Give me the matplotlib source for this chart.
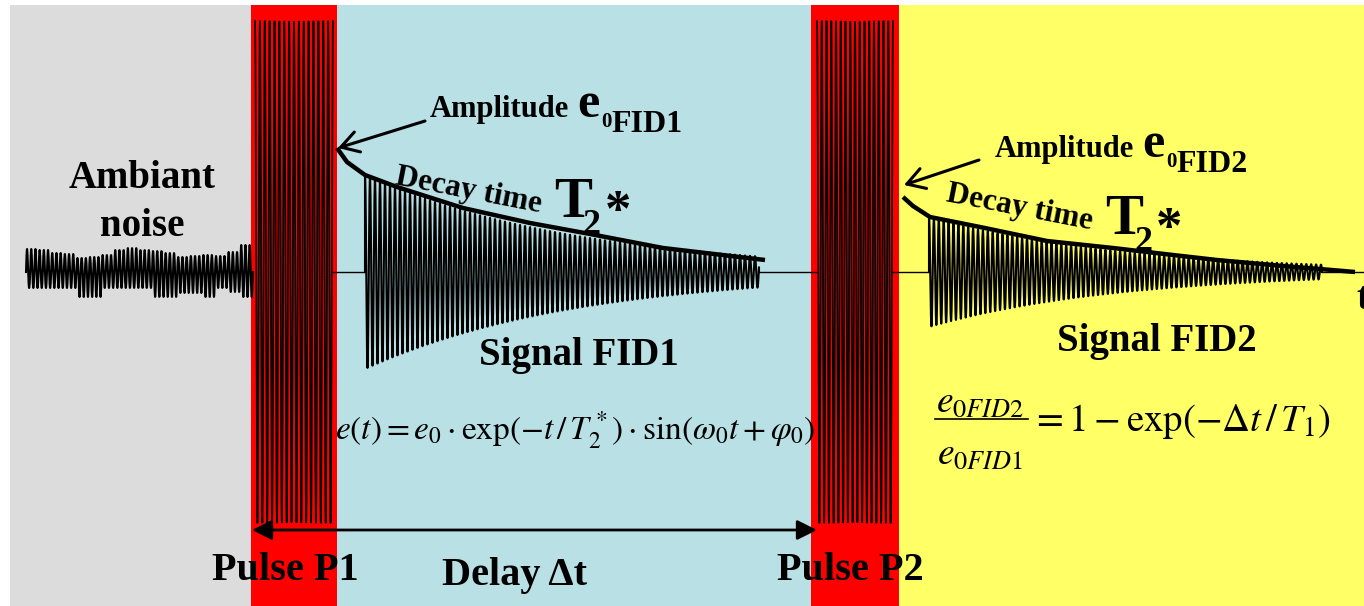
import numpy as np
import matplotlib
matplotlib.use("Agg")
import matplotlib.pyplot as plt
from matplotlib.patches import Rectangle

plt.rcParams["mathtext.fontset"] = "stix"
SERIF = "Liberation Serif"

W, H = 1364, 606
BASE_Y = 272

# background bands
band_edges = [10, 251, 337, 811, 899, 1364]
band_colors = ["#dcdcdc", "#ff0000", "#b9e0e4", "#ff0000", "#ffff66"]
band_top = 5

# RF pulses P1 and P2
pulse_spans = [(255, 333), (817, 893)]
pulse_cycles = 16
pulse_amp = 251

# ambient noise: upper / lower swing of each block of cycles
noise_span = (26, 254)
noise_period = 4.2
noise_up = [23, 22, 19, 18, 14, 15, 17, 22, 24, 22, 21, 19, 15, 16, 17, 16, 20, 27]
noise_down = [16, 16, 16, 16, 25, 25, 16, 16, 16, 16, 25, 25, 21, 21, 25, 16, 20, 25]

# free induction decays: e(t) = e0 exp(-t/T2*) cos(w0 t)
fid_start = [365, 929]
fid_end = [759, 1322]
fid_e0 = [97, 55]
fid_T2 = [215, 195]
fid_period = [5.0, 4.9]

# hand-drawn envelope guides (x, height above baseline)
env1_x = [337, 347, 365, 397, 463, 530, 590, 663, 765]
env1_h = [124, 110, 97, 85, 64, 49, 38, 24, 12]
env2_x = [903, 913, 930, 980, 1047, 1113, 1173, 1217, 1283, 1320, 1355]
env2_h = [75, 66, 55, 45, 31, 24, 17, 12, 6, 3, 0]

fig = plt.figure(figsize=(W / 100, H / 100), dpi=100)
ax = fig.add_axes([0, 0, 1, 1])
ax.set_xlim(0, W)
ax.set_ylim(H, 0)
ax.axis("off")

for x0, x1, c in zip(band_edges[:-1], band_edges[1:], band_colors):
    ax.add_patch(Rectangle((x0, band_top), x1 - x0, H - band_top, color=c, lw=0, zorder=0))

# noise
n_cyc = int((noise_span[1] - noise_span[0]) / noise_period)
per_block = int(np.ceil(n_cyc / len(noise_up)))
up = np.repeat(noise_up, per_block)[:n_cyc]
dn = np.repeat(noise_down, per_block)[:n_cyc]
xs = np.linspace(noise_span[0], noise_span[0] + n_cyc * noise_period, n_cyc * 24)
ph = (xs - noise_span[0]) / noise_period
k = np.minimum(ph.astype(int), n_cyc - 1)
s = np.sin(2 * np.pi * ph)
ax.plot(xs, BASE_Y - np.where(s > 0, up[k] * s, dn[k] * s), color="black", lw=1.5, zorder=3)

# pulses
for (a, b) in pulse_spans:
    xp = np.linspace(a, b, pulse_cycles * 40)
    yp = BASE_Y - pulse_amp * np.sin(2 * np.pi * pulse_cycles * (xp - a) / (b - a) + np.pi / 2)
    ax.plot(xp, yp, color="black", lw=1.25, zorder=3)

# baseline pieces between the marks
base_segments = [(pulse_spans[0][1], fid_start[0]), (fid_end[0], pulse_spans[1][0]),
                 (pulse_spans[1][1], fid_start[1]), (fid_end[1], W)]
for a, b in base_segments:
    ax.plot([a, b], [BASE_Y, BASE_Y], color="black", lw=1.0, zorder=3)

# FIDs
for s0, s1, e0, T2, per in zip(fid_start, fid_end, fid_e0, fid_T2, fid_period):
    t = np.linspace(0, s1 - s0, int((s1 - s0) / per * 30))
    y = BASE_Y - e0 * np.exp(-t / T2) * np.cos(2 * np.pi * t / per)
    ax.plot(np.r_[s0, s0 + t, s1], np.r_[BASE_Y, y, BASE_Y], color="black", lw=1.5, zorder=3)

ax.plot(env1_x, BASE_Y - np.array(env1_h), color="black", lw=3.2, solid_capstyle="butt", zorder=4)
ax.plot(env2_x, BASE_Y - np.array(env2_h), color="black", lw=3.2, solid_capstyle="butt", zorder=4)

bold = dict(family=SERIF, weight="bold", color="black", zorder=5)

# amplitude labels with arrows
for dx, dy, tag in [(0, 0, "FID1"), (565, 40, "FID2")]:
    ax.text(430 + dx, 117 + dy, "Amplitude", fontsize=22, ha="left", va="baseline", **bold)
    ax.text(577 + dx, 117 + dy, "e", fontsize=36, ha="left", va="baseline", **bold)
    ax.text(601 + dx, 127 + dy, "0", fontsize=15, ha="left", va="baseline", **bold)
    ax.text(611 + dx, 132 + dy, tag, fontsize=23, ha="left", va="baseline", **bold)

ax.annotate("", xy=(338, 148), xytext=(425, 121),
            arrowprops=dict(arrowstyle="->,head_length=0.5,head_width=0.3", lw=2.2, color="black",
                            shrinkA=0, shrinkB=0, mutation_scale=25), zorder=5)
ax.annotate("", xy=(904, 185), xytext=(979, 160),
            arrowprops=dict(arrowstyle="->,head_length=0.5,head_width=0.3", lw=2.2, color="black",
                            shrinkA=0, shrinkB=0, mutation_scale=25), zorder=5)

# decay-time labels
for dx, dy in [(0, 0), (551, 17)]:
    ax.text(394 + dx, 184 + dy, "Decay time", fontsize=22.5, rotation=-11, rotation_mode="anchor",
            ha="left", va="baseline", **bold)
    ax.text(554 + dx, 217 + dy, "T", fontsize=41, ha="left", va="baseline", **bold)
    ax.text(583 + dx, 234 + dy, "2", fontsize=26, ha="left", va="baseline", **bold)
    ax.text(605 + dx, 226 + dy, "*", fontsize=38, ha="left", va="baseline", **bold)

ax.text(142, 188, "Ambiant", fontsize=28, ha="center", va="baseline", **bold)
ax.text(142, 236, "noise", fontsize=28, ha="center", va="baseline", **bold)
ax.text(579, 365, "Signal FID1", fontsize=28, ha="center", va="baseline", **bold)
ax.text(1157, 351, "Signal FID2", fontsize=28, ha="center", va="baseline", **bold)
ax.text(1356, 309, "t", fontsize=28, ha="left", va="baseline", **bold)

ax.text(285, 580, "Pulse P1", fontsize=29, ha="center", va="baseline", **bold)
ax.text(515, 585, "Delay \u0394t", fontsize=29, ha="center", va="baseline", **bold)
ax.text(850, 580, "Pulse P2", fontsize=29, ha="center", va="baseline", **bold)

ax.annotate("", xy=(252, 530), xytext=(817, 530),
            arrowprops=dict(arrowstyle="<|-|>,head_length=0.6,head_width=0.3", lw=2, color="black",
                            shrinkA=0, shrinkB=0, mutation_scale=20), zorder=5)

# signal equation
ax.text(575, 439, r"$e(t) = e_0 \cdot \exp(-t\,/\,T_2^*) \cdot \sin(\omega_0 t + \varphi_0)$",
        fontsize=24, ha="center", va="baseline", color="black", zorder=5)

# amplitude ratio equation, built as a stacked fraction
ax.text(980, 412, r"$e_{0FID2}$", fontsize=27, ha="center", va="baseline", color="black", zorder=5)
ax.plot([935, 1028], [419, 419], color="black", lw=1.2, zorder=5)
ax.text(980, 464, r"$e_{0FID1}$", fontsize=27, ha="center", va="baseline", color="black", zorder=5)
ax.text(1031, 431, r"$= 1 - \exp(-\Delta t\,/\,T_1)$", fontsize=28, ha="left", va="baseline",
        color="black", zorder=5)

fig.savefig("out.png", dpi=100)
